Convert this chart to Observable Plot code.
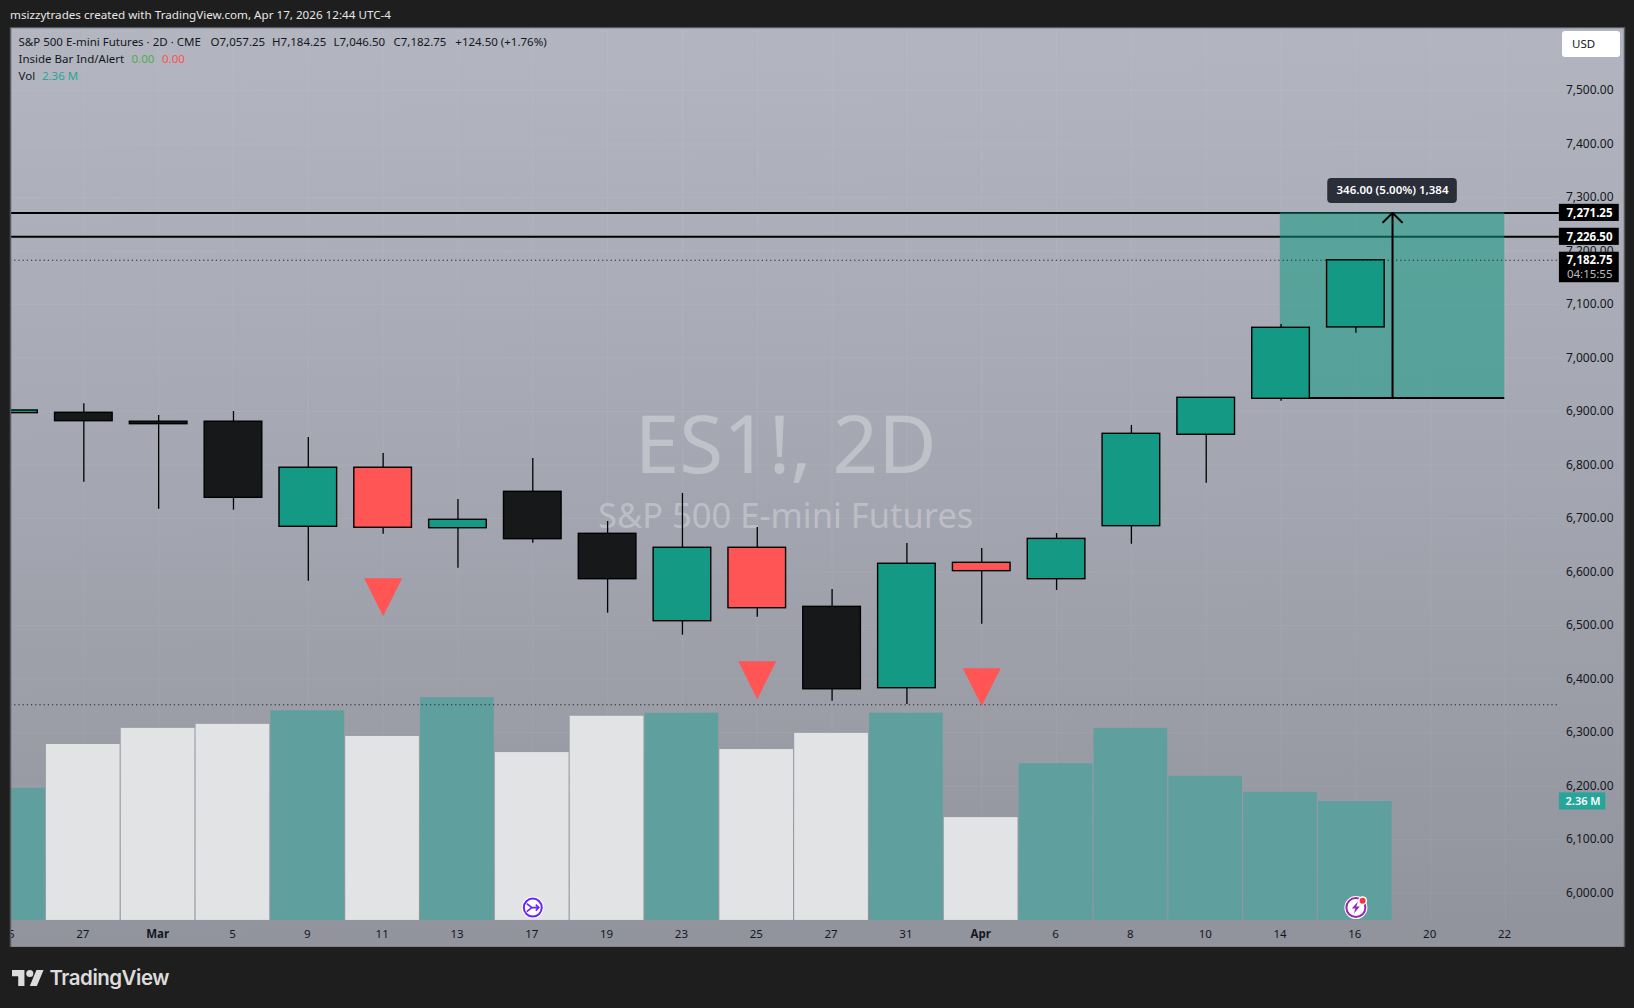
<!DOCTYPE html>
<html>
<head>
<meta charset="utf-8">
<script src="https://cdn.jsdelivr.net/npm/d3@7"></script>
<script src="https://cdn.jsdelivr.net/npm/@observablehq/plot@0.6"></script>
<style>
  html, body { margin: 0; padding: 0; background: #1e1e1e; width: 1634px; height: 1008px; overflow: hidden; }
  body { position: relative; font-family: "Noto Sans", sans-serif; }
  #head { height: 27px; line-height: 29px; padding-left: 10px; color: #e6e6e6; font-size: 11.65px; box-sizing: border-box; }
  #chart svg { display: block; }
  #usd { position: absolute; left: 1562px; top: 31px; width: 58px; height: 26px; background: #fff; border-radius: 3px;
         color: #131722; font-size: 11.5px; line-height: 26px; padding-left: 10px; box-sizing: border-box; }
  #foot { position: absolute; left: 11.5px; top: 965px; display: flex; align-items: center; gap: 6px; color: #dcdcdc;
          font-size: 20.5px; font-weight: 600; font-family: Inter, "Noto Sans", sans-serif; letter-spacing: -0.5px; }
</style>
</head>
<body>
<div id="head">msizzytrades created with TradingView.com, Apr 17, 2026 12:44 UTC-4</div>
<div id="chart"></div>
<div id="usd">USD</div>
<div id="foot">
  <svg width="32" height="16" viewBox="0 4 36 18"><path fill="#dcdcdc" d="M14 22H7V11H0V4h14v18zM28 22h-8l7.5-18h8L28 22z"/><circle fill="#dcdcdc" cx="20" cy="8" r="4"/></svg>
  <span>TradingView</span>
</div>
<script>
// ---- data ----
const sessions = [-1, 0, 1, 2, 3, 4, 5, 6, 7, 8, 9, 10, 11, 12, 13, 14, 15, 16, 17];
const opens  = [6897, 6897.7, 6881, 6881, 6684.6, 6795, 6682, 6750, 6671.5, 6508.2, 6645.4, 6535, 6383, 6617.3, 6586.7, 6685.8, 6856.6, 6923.8, 7057.25];
const closes = [6902, 6882, 6876.4, 6738.8, 6795, 6682.8, 6697.7, 6661.5, 6586.7, 6645.4, 6532.5, 6381, 6615.5, 6601.7, 6662, 6858.4, 6925.7, 7056.5, 7182.75];
const highs  = [6902, 6914.5, 6892.6, 6900, 6851.5, 6821.6, 6735.7, 6812.3, 6694.5, 6747, 6683.3, 6567.5, 6653.4, 6644, 6672, 6874, 6925.7, 7062.7, 7184.25];
const lows   = [6897, 6768, 6717.5, 6715.7, 6583, 6670.8, 6607.3, 6654, 6523.2, 6482, 6515.7, 6358.7, 6352.5, 6502.6, 6565.6, 6652, 6766, 6919.4, 7046.5];
const kinds  = ["up","down","down","down","up","inside","up","down","down","up","inside","down","up","inside","up","up","up","up","up"];
const volumes = [2.62, 3.49, 3.81, 3.89, 4.16, 3.65, 4.42, 3.33, 4.05, 4.11, 3.39, 3.71, 4.11, 2.04, 3.11, 3.81, 2.86, 2.54, 2.36];
const volumeUp = [true,false,false,false,true,false,true,false,false,true,false,false,true,false,true,true,true,true,true];
const signalSessions = [4, 9, 12];
const signalPrices = [6553, 6398, 6385];
const dayLabels = ["25","27","Mar","5","9","11","13","17","19","23","25","27","31","Apr","6","8","10","14","16","20","22"];
const priceTicks = [6000,6100,6200,6300,6400,6500,6600,6700,6800,6900,7000,7100,7200,7300,7400,7500];
const levels = [7271.25, 7226.5];
const lastClose = 7182.75;
const lowLevel = 6352;
const longEntry = 6925.25;
const longTarget = 7271.25;

// ---- tables ----
const candles = sessions.map((i, k) => ({i, o: opens[k], c: closes[k], h: highs[k], l: lows[k], kind: kinds[k], v: volumes[k], up: volumeUp[k]}));
const labelSlots = dayLabels.map((t, k) => ({i: k - 1, t}));
const monthSlots = labelSlots.filter(d => /[A-Za-z]/.test(d.t));
const daySlots = labelSlots.filter(d => !/[A-Za-z]/.test(d.t));
const labelOf = new Map(labelSlots.map(d => [d.i, d.t]));
const signals = signalSessions.map((i, k) => ({i, y: signalPrices[k]}));

const colors = {up: "#149a84", down: "#17181a", inside: "#ff5555"};
const volBase = 5949, pricePerMillion = 94.2;   // the volume pane shares the price pane
const paneRight = 19.72;                        // where the price scale begins
const mono = "Noto Sans, sans-serif";

// ---- helper marks ----
const gradient = () => {
  const defs = d3.create("svg:defs");
  const g = defs.append("linearGradient").attr("id", "paneBg").attr("x1", 0.02).attr("y1", 0).attr("x2", 0.05).attr("y2", 1);
  g.append("stop").attr("offset", "0").attr("stop-color", "#b3b6c0");
  g.append("stop").attr("offset", "0.5").attr("stop-color", "#a4a6b1");
  g.append("stop").attr("offset", "1").attr("stop-color", "#92949d");
  return defs.node();
};
const triangleDown = {draw(c, size) { const s = Math.sqrt(size); c.moveTo(-s/2, -s/2); c.lineTo(s/2, -s/2); c.lineTo(0, s/2); c.closePath(); }};
const mergeGlyph = {draw(c) { c.moveTo(-6,-4); c.lineTo(-1,0); c.lineTo(-6,4); c.moveTo(-1,0); c.lineTo(6,0); c.moveTo(3,-3); c.lineTo(6,0); c.lineTo(3,3); }};
const boltGlyph = {draw(c) { c.moveTo(2,-6); c.lineTo(-4,1); c.lineTo(-0.5,1); c.lineTo(-2,6); c.lineTo(4,-1); c.lineTo(0.5,-1); c.closePath(); }};
const legend = (text, dx, dy, fill = "#131722") =>
  Plot.text([text], {frameAnchor: "top-left", dx, dy, text: d => d, fill, fontSize: 11.5, textAnchor: "start", lineAnchor: "middle"});
const tag = (y, h, fill, x2 = 20.52) =>
  Plot.rect([y], {x1: paneRight, x2, y1: d => d - h, y2: d => d + h, fill});
const tagText = (y, text, fill = "#fff", fontWeight = 700) =>
  Plot.text([y], {x: 20.43, y: d => d, text: () => text, textAnchor: "end", fill, fontWeight, fontSize: 11.5});

const chart = Plot.plot({
  width: 1634, height: 920,
  marginLeft: 10, marginRight: 10, marginTop: 0, marginBottom: 0,
  x: {type: "linear", domain: [-0.98, 20.59], axis: null},
  y: {type: "linear", domain: [5898.4, 7617.7], axis: null},
  color: {type: "identity"},
  style: {background: "transparent", fontFamily: mono},
  marks: [
    gradient,
    Plot.frame({fill: "url(#paneBg)", stroke: null}),
    // grid
    Plot.ruleY(priceTicks, {x1: -0.98, x2: paneRight, stroke: "#fff", strokeOpacity: 0.06}),
    Plot.ruleX(labelSlots.filter(d => d.i >= 0), {x: "i", y1: volBase, y2: 7617.7, stroke: "#fff", strokeOpacity: 0.06}),
    // watermark
    Plot.text(["ES1!, 2D"], {x: 9.38, y: 6833, text: d => d, fontSize: 80, fill: "#fff", fillOpacity: 0.3}),
    Plot.text(["S&P 500 E-mini Futures"], {x: 9.38, y: 6703, text: d => d, fontSize: 34.5, fill: "#fff", fillOpacity: 0.3}),
    // volume
    Plot.rect(candles, {x1: d => d.i - 0.5, x2: d => d.i + 0.485, y1: volBase, y2: d => volBase + d.v * pricePerMillion,
      fill: d => d.up ? "#5fa09e" : "#e2e3e5", clip: "frame"}),
    // price levels
    Plot.ruleY(levels, {x1: -0.98, x2: paneRight, stroke: "#000", strokeWidth: 2}),
    // long position box
    Plot.rect([0], {x1: 15.99, x2: 18.99, y1: longEntry, y2: longTarget, fill: "#149a84", fillOpacity: 0.55}),
    // candles
    Plot.ruleX(candles, {x: "i", y1: "l", y2: "h", stroke: "#000", strokeWidth: 1.3, clip: "frame"}),
    Plot.rect(candles, {x1: d => d.i - 0.385, x2: d => d.i + 0.385, y1: "o", y2: "c", fill: d => colors[d.kind], stroke: "#000", strokeWidth: 1.4, clip: "frame"}),
    // dotted levels
    Plot.ruleY([lastClose, lowLevel], {x1: -0.98, x2: paneRight, stroke: "#222", strokeWidth: 1, strokeDasharray: "1.2 3"}),
    // long position lines
    Plot.ruleY([longEntry], {x1: 16.38, x2: 18.99, stroke: "#000", strokeWidth: 2}),
    Plot.arrow([0], {x1: 17.49, x2: 17.49, y1: longEntry, y2: longTarget, stroke: "#000", strokeWidth: 2, headAngle: 90, headLength: 10}),
    Plot.rect([0], {x1: 17.49 - 0.866, x2: 17.49 + 0.866, y1: 7288.8, y2: 7335.5, fill: "#2a2e39", rx: 4}),
    Plot.text(["346.00 (5.00%) 1,384"], {x: 17.49, y: 7313, text: d => d, fill: "#fff", fontSize: 11.5, fontWeight: 600}),
    // inside-bar signals
    Plot.dot(signals, {x: "i", y: "y", symbol: triangleDown, r: 21.4, fill: "#ff5555", stroke: null}),
    // event icons
    Plot.dot([6], {x: d => d, y: 5973, r: 11, fill: "#fff"}),
    Plot.dot([6], {x: d => d, y: 5973, r: 9, fill: "#fff", stroke: "#6625ff", strokeWidth: 2}),
    Plot.dot([6], {x: d => d, y: 5973, symbol: mergeGlyph, r: 6, fill: "none", stroke: "#6625ff", strokeWidth: 1.6}),
    Plot.dot([17], {x: d => d, y: 5973, r: 11.5, fill: "#fff"}),
    Plot.dot([17], {x: d => d, y: 5973, r: 9.5, fill: "#fff", stroke: "#9c27b0", strokeWidth: 2}),
    Plot.dot([17], {x: d => d, y: 5973, symbol: boltGlyph, r: 6, fill: "#9c27b0", stroke: null}),
    Plot.dot([17.09], {x: d => d, y: 5986, r: 4.5, fill: "#fff"}),
    Plot.dot([17.09], {x: d => d, y: 5986, r: 3, fill: "#f23645"}),
    // axes
    Plot.axisY(priceTicks, {anchor: "right", tickSize: 0, tickPadding: -11, textAnchor: "end", label: null,
      tickFormat: d3.format(",.2f"), fontSize: 12, fill: "#131722"}),
    Plot.axisX(daySlots.map(d => d.i), {anchor: "bottom", tickSize: 0, tickPadding: -18, dx: -1, label: null,
      tickFormat: i => labelOf.get(i), fontSize: 11.5, fill: "#131722", clip: "frame"}),
    Plot.axisX(monthSlots.map(d => d.i), {anchor: "bottom", tickSize: 0, tickPadding: -18, dx: -1, label: null,
      tickFormat: i => labelOf.get(i), fontSize: 11.5, fontWeight: 700, fill: "#131722"}),
    // price scale tags
    tag(7271.25, 16, "#000"), tagText(7271.25, "7,271.25"),
    tag(7226.5, 16, "#000"), tagText(7226.5, "7,226.50"),
    Plot.rect([lastClose], {x1: paneRight, x2: 20.52, y1: d => d - 42, y2: d => d + 15, fill: "#000"}),
    tagText(lastClose, "7,182.75"), tagText(7157, "04:15:55", "#bdbdbd", 400),
    Plot.rect([2.36], {x1: paneRight, x2: 20.34, y1: d => volBase + d * pricePerMillion - 16, y2: d => volBase + d * pricePerMillion + 16, fill: "#26a69a"}),
    Plot.text([2.36], {x: 20.27, y: d => volBase + d * pricePerMillion, text: () => "2.36 M", textAnchor: "end", fill: "#fff", fontWeight: 600, fontSize: 11}),
    // legend
    legend("S&P 500 E-mini Futures · 2D · CME", 8, 15),
    legend("O7,057.25", 200, 15), legend("H7,184.25", 261.6, 15), legend("L7,046.50", 323, 15), legend("C7,182.75", 383, 15),
    legend("+124.50 (+1.76%)", 444.8, 15),
    legend("Inside Bar Ind/Alert", 8, 32), legend("0.00", 121, 32, "#4caf50"), legend("0.00", 151.5, 32, "#ff5252"),
    legend("Vol", 8, 49), legend("2.36 M", 31.4, 49, "#26a69a"),
    Plot.frame({stroke: "#58595d", strokeWidth: 1.5})
  ]
});
document.getElementById("chart").append(chart);
</script>
</body>
</html>
